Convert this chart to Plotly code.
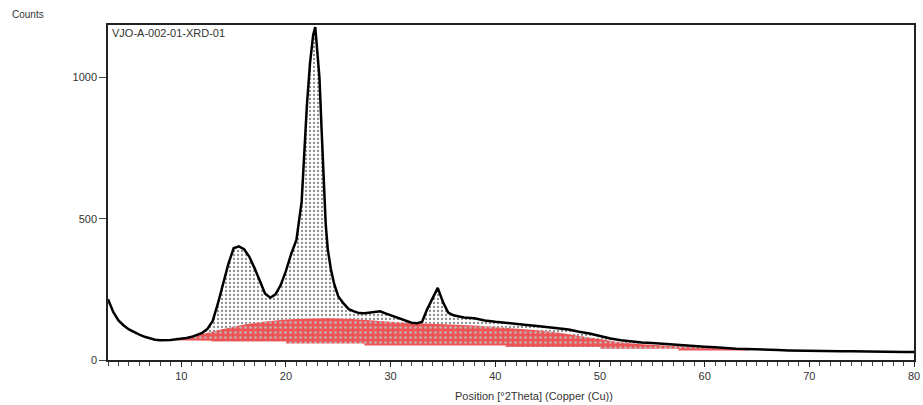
import plotly.graph_objects as go

# Observed diffraction profile (2theta, counts)
two_theta = [3.0, 3.5, 4.0, 4.5, 5.0, 5.5, 6.0, 6.5, 7.0, 7.5, 8.0, 8.5, 9.0, 9.5, 10.0,
             10.5, 11.0, 11.5, 12.0, 12.5, 13.0, 13.5, 14.0, 14.5, 15.0, 15.5, 16.0, 16.5,
             17.0, 17.5, 18.0, 18.5, 19.0, 19.5, 20.0, 20.5, 21.0, 21.5, 21.8, 22.0, 22.3,
             22.6, 22.8, 23.0, 23.2, 23.4, 23.6, 23.8, 24.0, 24.3, 24.6, 25.0, 25.5, 26.0,
             26.5, 27.0, 27.5, 28.0, 28.5, 29.0, 29.5, 30.0, 30.5, 31.0, 31.5, 32.0, 32.5,
             33.0, 33.5, 34.0, 34.5, 35.0, 35.5, 36.0, 37.0, 38.0, 39.0, 40.0, 41.0, 42.0,
             43.0, 44.0, 45.0, 46.0, 47.0, 48.0, 49.0, 50.0, 51.0, 52.0, 53.0, 54.0, 55.0,
             56.0, 57.0, 58.0, 59.0, 60.0, 61.0, 62.0, 63.0, 64.0, 65.0, 66.0, 67.0, 68.0,
             69.0, 70.0, 71.0, 72.0, 73.0, 74.0, 75.0, 76.0, 77.0, 78.0, 79.0, 80.0]
counts = [215, 170, 140, 122, 108, 98, 90, 82, 76, 72, 70, 70, 71, 73, 75,
          78, 82, 88, 96, 110, 138, 200, 270, 340, 395, 402, 392, 365,
          325, 280, 235, 220, 232, 265, 315, 375, 425, 560, 760, 900, 1050,
          1150, 1178, 1080, 1000, 820, 620, 480, 390, 320, 270, 225, 200, 180,
          172, 166, 165, 168, 170, 172, 165, 158, 152, 145, 138, 132, 130,
          135, 180, 220, 255, 205, 168, 158, 150, 148, 140, 135, 132, 128,
          124, 120, 116, 112, 108, 100, 94, 85, 76, 70, 65, 62, 60,
          57, 55, 53, 50, 47, 45, 42, 40, 39, 37, 36, 35, 34,
          33, 33, 32, 32, 31, 31, 30, 30, 29, 29, 28, 28]

# Amorphous background (red band): upper and lower edges
bg_x = [9.0, 10, 11, 12, 13, 14, 15, 16, 18, 20, 22, 24, 26, 28, 30, 32, 34, 36, 38,
        40, 42, 44, 46, 48, 50, 52, 54, 56, 58, 60, 62, 64.3]
bg_top = [70, 75, 82, 92, 102, 110, 118, 126, 136, 143, 147, 149, 146, 140, 134, 130,
          128, 126, 122, 117, 112, 105, 97, 86, 74, 62, 56, 51, 47, 43, 41, 39]
low_x = [9.0, 12.9, 12.9, 20.0, 20.0, 27.5, 27.5, 41.0, 41.0, 50.0, 50.0, 57.5, 57.5, 64.3]
low_y = [70, 68, 65, 65, 58, 58, 51, 51, 46, 46, 40, 40, 34, 34]

x_lo, x_hi = bg_x[0], bg_x[-1]
seg = [(a, b) for a, b in zip(two_theta, counts) if x_lo <= a <= x_hi]
stip_x = [a for a, _ in seg] + bg_x[::-1]
stip_y = [b for _, b in seg] + bg_top[::-1]

red_x = bg_x + low_x[::-1]
red_y = bg_top + low_y[::-1]

fig = go.Figure()
fig.add_trace(go.Scatter(
    x=stip_x, y=stip_y, mode="lines", line=dict(width=0), fill="toself",
    fillcolor="rgba(0,0,0,0)",
    fillpattern=dict(shape=".", bgcolor="white", fgcolor="#8c8c8c", size=4, solidity=0.25),
    hoverinfo="skip", showlegend=False))
fig.add_trace(go.Scatter(
    x=red_x, y=red_y, mode="lines", line=dict(width=0), fill="toself",
    fillcolor="#ee5456",
    fillpattern=dict(shape=".", bgcolor="#ee5456", fgcolor="#bdb4b4", size=5, solidity=0.22),
    hoverinfo="skip", showlegend=False))
fig.add_trace(go.Scatter(
    x=two_theta, y=counts, mode="lines", line=dict(color="black", width=2.5),
    showlegend=False))

tick_font = dict(family="Liberation Sans, Arial, sans-serif", size=11, color="#333333")
fig.update_layout(
    template="none",
    width=923, height=405,
    margin=dict(l=108, r=9, t=25, b=45),
    paper_bgcolor="white", plot_bgcolor="white",
    font=dict(family="Liberation Sans, Arial, sans-serif", size=11, color="#333333"),
    xaxis=dict(range=[3, 80], tickvals=[10, 20, 30, 40, 50, 60, 70, 80], automargin=False,
               ticks="outside", ticklen=5, tickwidth=1, tickcolor="#222", tickfont=tick_font,
               minor=dict(dtick=1, ticks="outside", ticklen=4, tickcolor="#444", showgrid=False),
               showline=True, linecolor="#222", linewidth=1.5, mirror=True,
               showgrid=False, zeroline=False),
    yaxis=dict(range=[0, 1185], tickvals=[0, 500, 1000], automargin=False,
               ticks="outside", ticklen=7, tickwidth=1, tickcolor="#444", tickfont=tick_font,
               showline=True, linecolor="#222", linewidth=1.5, mirror=True,
               showgrid=False, zeroline=False),
    annotations=[
        dict(text="Counts", xref="paper", yref="paper", x=-0.121, y=1.008,
             xanchor="left", yanchor="bottom", showarrow=False,
             font=dict(size=10, color="#333333")),
        dict(text="VJO-A-002-01-XRD-01", xref="paper", yref="paper", x=0.003, y=1.0,
             xanchor="left", yanchor="top", showarrow=False,
             font=dict(size=11, color="#333333")),
        dict(text="Position [°2Theta] (Copper (Cu))", xref="paper", yref="paper",
             x=0.528, y=-0.085, xanchor="center", yanchor="top", showarrow=False,
             font=dict(size=11, color="#333333")),
    ],
)
fig.write_html("out.html", config={"displayModeBar": False})

# remove the default page margin so the figure sits at the window's top-left
with open("out.html", "r", encoding="utf-8") as f:
    html = f.read()
html = html.replace("<head>", "<head><style>html,body{margin:0;padding:0;}</style>", 1)
with open("out.html", "w", encoding="utf-8") as f:
    f.write(html)
